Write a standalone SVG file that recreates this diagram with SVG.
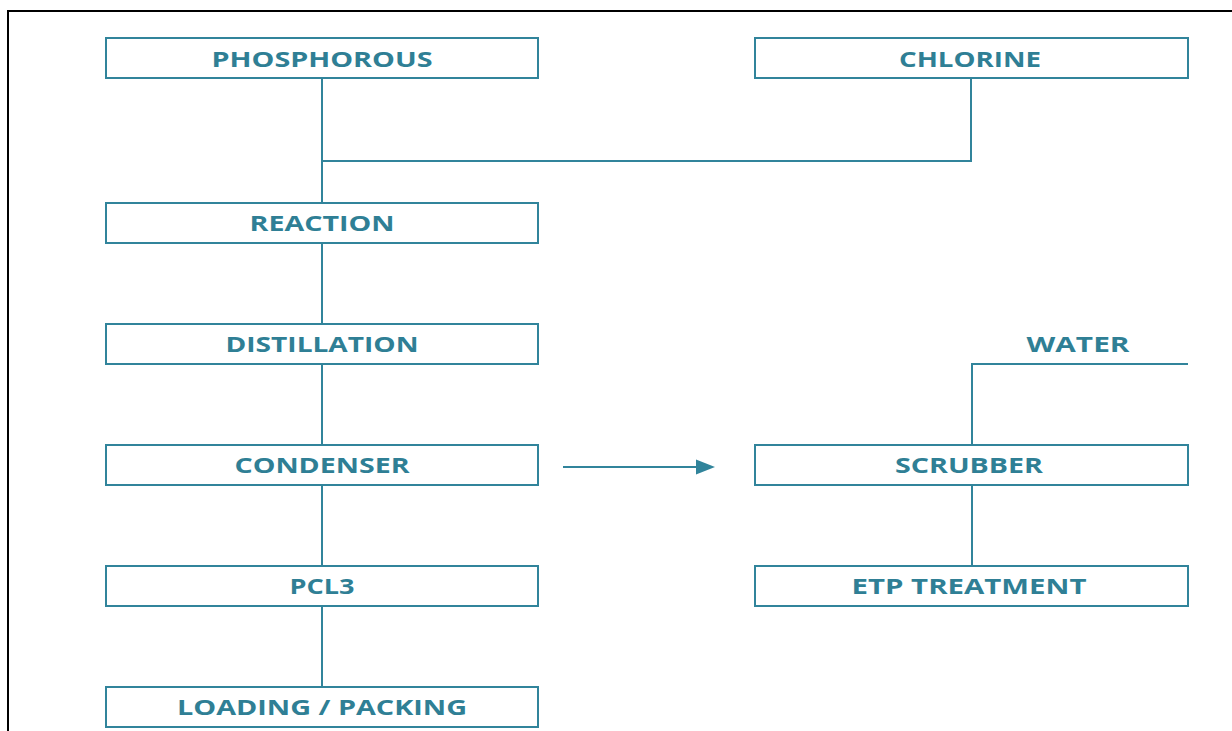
<svg xmlns="http://www.w3.org/2000/svg" width="1232" height="731" viewBox="0 0 1232 731">
<style>
.box{fill:#fff;stroke:#31849B;stroke-width:2}
.lbl{font-family:"Open Sans","Liberation Sans",sans-serif;font-weight:bold;font-size:21px;fill:#2F7F95;text-anchor:middle}
.ln{stroke:#31849B;stroke-width:2;fill:none}
</style>
<rect x="0" y="0" width="1232" height="731" fill="#fff"/>
<path d="M8,731 V11 H1232" fill="none" stroke="#000" stroke-width="2"/>
<g id="connectors">
<path class="ln" d="M322,78 V203"/>
<path class="ln" d="M322,161 H971 V78"/>
<path class="ln" d="M322,243 V324"/>
<path class="ln" d="M322,364 V445"/>
<path class="ln" d="M322,485 V566"/>
<path class="ln" d="M322,606 V687"/>
<path class="ln" d="M1188,364 H972 V445"/>
<path class="ln" d="M972,485 V566"/>
<path class="ln" d="M563,467 H698"/>
<path d="M696,459.5 L715,467 L696,474.5 Z" fill="#31849B"/>
</g>
<g id="n-phosphorous"><rect class="box" x="106" y="38" width="432" height="40"/><text class="lbl" x="322" y="66.5" textLength="221" lengthAdjust="spacingAndGlyphs">PHOSPHOROUS</text></g>
<g id="n-chlorine"><rect class="box" x="755" y="38" width="433" height="40"/><text class="lbl" x="970" y="66.5" textLength="142" lengthAdjust="spacingAndGlyphs">CHLORINE</text></g>
<g id="n-reaction"><rect class="box" x="106" y="203" width="432" height="40"/><text class="lbl" x="322" y="231" textLength="145" lengthAdjust="spacingAndGlyphs">REACTION</text></g>
<g id="n-distillation"><rect class="box" x="106" y="324" width="432" height="40"/><text class="lbl" x="322" y="352" textLength="193" lengthAdjust="spacingAndGlyphs">DISTILLATION</text></g>
<g id="n-condenser"><rect class="box" x="106" y="445" width="432" height="40"/><text class="lbl" x="322" y="473" textLength="175" lengthAdjust="spacingAndGlyphs">CONDENSER</text></g>
<g id="n-pcl3"><rect class="box" x="106" y="566" width="432" height="40"/><text class="lbl" x="322" y="594" textLength="65" lengthAdjust="spacingAndGlyphs">PCL3</text></g>
<g id="n-loading"><rect class="box" x="106" y="687" width="432" height="40"/><text class="lbl" x="322" y="715" textLength="290" lengthAdjust="spacingAndGlyphs">LOADING / PACKING</text></g>
<g id="n-water"><text class="lbl" x="1078" y="352" textLength="103" lengthAdjust="spacingAndGlyphs">WATER</text></g>
<g id="n-scrubber"><rect class="box" x="755" y="445" width="433" height="40"/><text class="lbl" x="969" y="473" textLength="148" lengthAdjust="spacingAndGlyphs">SCRUBBER</text></g>
<g id="n-etp"><rect class="box" x="755" y="566" width="433" height="40"/><text class="lbl" x="969" y="594" textLength="235" lengthAdjust="spacingAndGlyphs">ETP TREATMENT</text></g>
</svg>
